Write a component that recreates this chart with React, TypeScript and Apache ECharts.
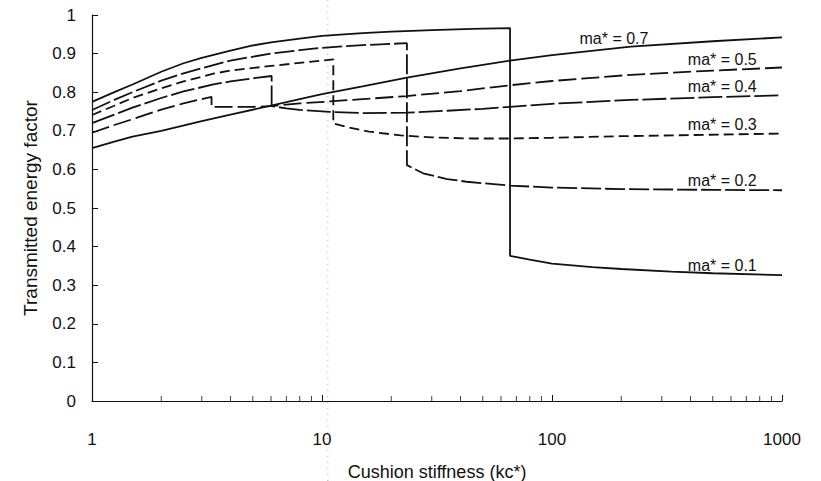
import { useEffect, useRef } from "react";
import * as echarts from "echarts";

// Transmitted energy factor vs. cushion stiffness, one curve per ma*
const ma01: [number, number][] = [
  [1, 0.775], [1.25, 0.8], [1.5, 0.82], [2, 0.853], [2.5, 0.875], [3, 0.889],
  [4, 0.908], [5, 0.921], [6, 0.929], [8, 0.939], [10, 0.946], [15, 0.953],
  [20, 0.957], [30, 0.961], [45, 0.964], [65.7, 0.966],
  [65.7, 0.376], [80, 0.366], [100, 0.356], [150, 0.347], [200, 0.342],
  [330, 0.335], [500, 0.331], [1000, 0.326],
];
const ma02: [number, number][] = [
  [1, 0.754], [1.25, 0.78], [1.5, 0.8], [2, 0.83], [2.5, 0.849], [3.37, 0.87],
  [4, 0.882], [6, 0.9], [8, 0.909], [10, 0.915], [15, 0.922], [23.4, 0.927],
  [23.4, 0.611], [27.5, 0.59], [35, 0.575], [42.6, 0.568], [65.7, 0.558],
  [100, 0.553], [200, 0.549], [500, 0.547], [1000, 0.546],
];
const ma03: [number, number][] = [
  [1, 0.741], [1.25, 0.765], [1.5, 0.785], [2, 0.81], [2.5, 0.828], [3.37, 0.848],
  [4, 0.856], [6, 0.868], [8, 0.876], [11.2, 0.885],
  [11.2, 0.719], [13, 0.709], [16, 0.698], [22, 0.688], [30, 0.683], [45, 0.68],
  [65.7, 0.68], [100, 0.682], [200, 0.686], [400, 0.689], [1000, 0.693],
];
const ma04: [number, number][] = [
  [1, 0.72], [1.25, 0.742], [1.5, 0.76], [2, 0.785], [2.5, 0.802], [3.37, 0.82],
  [4, 0.828], [5, 0.836], [6.04, 0.842],
  [6.04, 0.764], [7, 0.758], [8, 0.754], [10.8, 0.749], [15, 0.746], [23.4, 0.747],
  [35, 0.752], [50, 0.757], [65.7, 0.762], [100, 0.77], [220, 0.78], [500, 0.787],
  [1000, 0.792],
];
const ma05: [number, number][] = [
  [1, 0.695], [1.25, 0.715], [1.5, 0.73], [2, 0.755], [2.5, 0.771], [3.31, 0.788],
  [3.31, 0.762], [4, 0.762], [5, 0.762], [6, 0.764], [8, 0.771], [10.8, 0.776],
  [15, 0.782], [23.4, 0.79], [40, 0.803], [65.7, 0.818], [100, 0.829], [220, 0.845],
  [500, 0.856], [1000, 0.864],
];
const ma07: [number, number][] = [
  [1, 0.655], [1.25, 0.672], [1.5, 0.685], [2, 0.7], [3, 0.725], [4, 0.742],
  [6, 0.765], [8, 0.782], [10, 0.795], [15, 0.815], [23.4, 0.838], [40, 0.862],
  [65.7, 0.882], [100, 0.896], [220, 0.918], [500, 0.932], [1000, 0.942],
];

// curve labels: text and where they sit along each curve
const curveLabels = ["ma* = 0.1", "ma* = 0.2", "ma* = 0.3", "ma* = 0.4", "ma* = 0.5", "ma* = 0.7"];
const labelAnchors: [number, number][] = [
  [550, 0.327], [550, 0.546], [550, 0.691], [550, 0.789], [550, 0.859], [186, 0.915],
];

// minor ticks along the log axis
const minorTickValues = [
  2, 3, 4, 5, 6, 7, 8, 9, 20, 30, 40, 50, 60, 70, 80, 90,
  200, 300, 400, 500, 600, 700, 800, 900,
];

const FONT = "'Liberation Sans', Arial, Helvetica, sans-serif";
const INK = "#111";

export default function App() {
  const ref = useRef<HTMLDivElement>(null);

  useEffect(() => {
    if (!ref.current) return;
    const chart = echarts.init(ref.current, null, { renderer: "svg" });

    const curves = [
      { data: ma01, dash: "solid" as any },
      { data: ma02, dash: [20, 4] },
      { data: ma03, dash: [10, 5] },
      { data: ma04, dash: [24, 4] },
      { data: ma05, dash: [18, 5] },
      { data: ma07, dash: "solid" as any },
    ];

    const lineSeries = curves.map((c, i) => ({
      type: "line",
      data: c.data,
      showSymbol: false,
      symbol: "none",
      smooth: false,
      silent: true,
      lineStyle: { color: INK, width: 1.8, type: c.dash },
      markPoint: {
        symbol: "circle",
        symbolSize: 1,
        itemStyle: { color: "transparent" },
        label: {
          show: true,
          position: "top",
          distance: 1,
          color: INK,
          fontFamily: FONT,
          fontSize: 16,
          formatter: curveLabels[i],
        },
        data: [{ coord: labelAnchors[i] }],
      },
    }));

    chart.setOption({
      animation: false,
      backgroundColor: "#fff",
      grid: { left: 92, right: 39, top: 15, bottom: 80, outerBoundsMode: "none" },
      xAxis: {
        type: "log",
        logBase: 10,
        min: 1,
        max: 1000,
        name: "Cushion stiffness (kc*)",
        nameLocation: "middle",
        nameGap: 62,
        nameTextStyle: { color: INK, fontFamily: FONT, fontSize: 18 },
        axisLine: { lineStyle: { color: INK, width: 1.2 } },
        axisTick: { inside: true, length: 6, lineStyle: { color: INK } },
        axisLabel: {
          color: INK,
          fontFamily: FONT,
          fontSize: 17,
          margin: 30,
          formatter: (v: number) => String(v),
        },
        splitLine: { show: false },
      },
      yAxis: {
        type: "value",
        min: 0,
        max: 1,
        interval: 0.1,
        name: "Transmitted energy factor",
        nameLocation: "middle",
        nameGap: 52,
        nameTextStyle: { color: INK, fontFamily: FONT, fontSize: 19 },
        axisLine: { show: true, lineStyle: { color: INK, width: 1.2 } },
        axisTick: { show: true, inside: true, length: 6, lineStyle: { color: INK } },
        axisLabel: { color: INK, fontFamily: FONT, fontSize: 17, margin: 16 },
        splitLine: { show: false },
      },
      series: [
        ...lineSeries,
        {
          type: "scatter",
          data: minorTickValues.map((v) => [v, 0]),
          symbol: "rect",
          symbolSize: [1, 5],
          symbolOffset: [0, -2.5],
          itemStyle: { color: INK },
          silent: true,
          z: 1,
        },
      ],
    });

    // faint dotted crease running the full height near x = 10
    const creaseX = chart.convertToPixel({ xAxisIndex: 0 }, 10.6) as number;
    chart.setOption({
      graphic: [
        {
          type: "line",
          shape: { x1: creaseX, y1: 0, x2: creaseX, y2: 481 },
          style: { stroke: "#aaa", lineWidth: 1, lineDash: [1, 5] },
          silent: true,
          z: -1,
        },
      ],
    });

    return () => chart.dispose();
  }, []);

  return (
    <div
      ref={ref}
      style={{ position: "fixed", left: 0, top: 0, width: 821, height: 481, background: "#fff" }}
    />
  );
}
